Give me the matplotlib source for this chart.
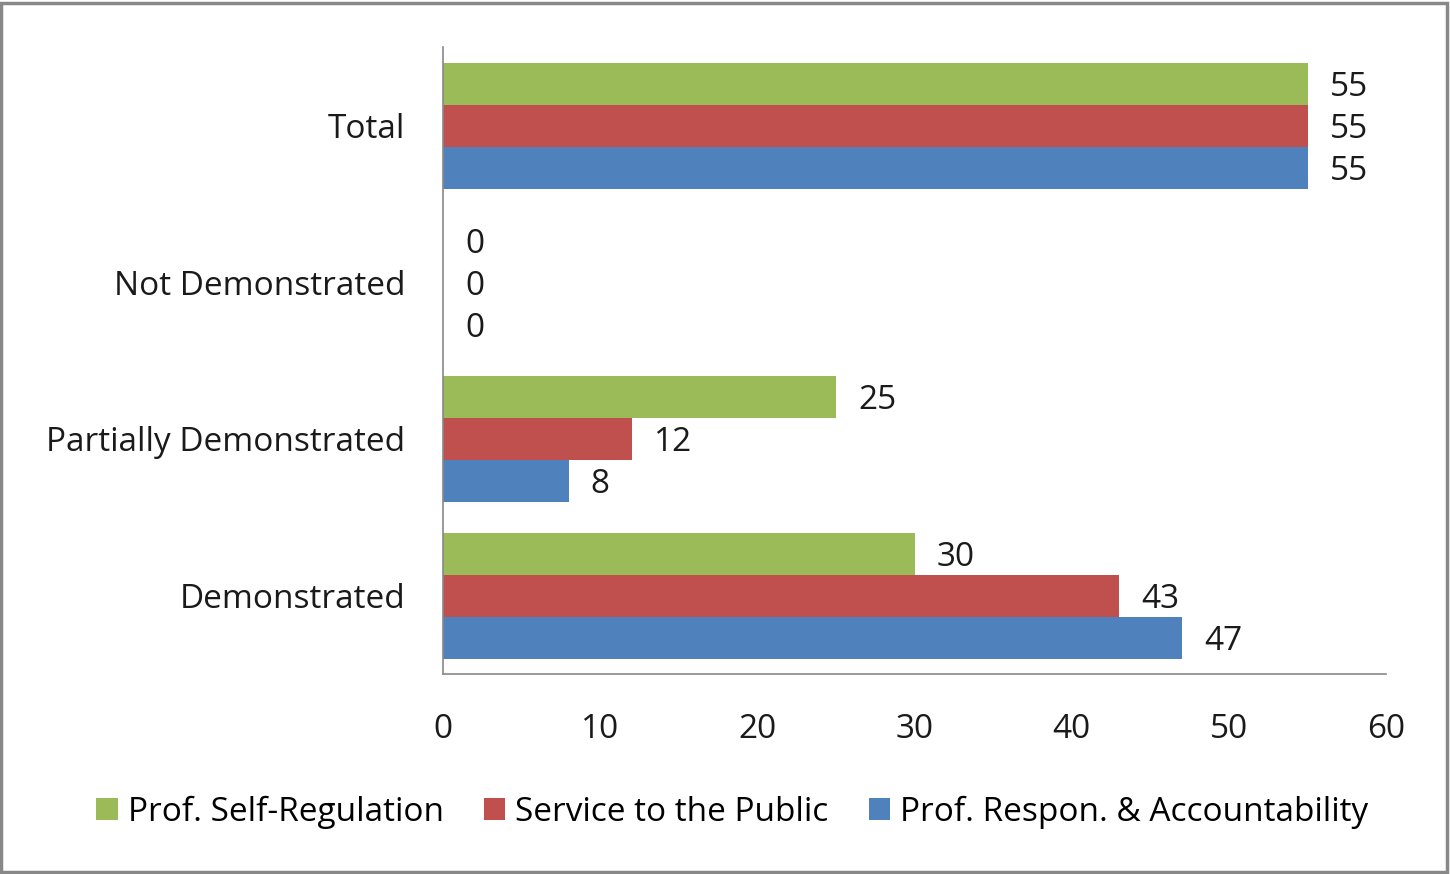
import numpy as np
import matplotlib.pyplot as plt
from matplotlib.patches import Rectangle

categories = ['Demonstrated', 'Partially Demonstrated', 'Not Demonstrated', 'Total']
series_names = ['Prof. Self-Regulation', 'Service to the Public', 'Prof. Respon. & Accountability']
self_regulation = [30, 25, 0, 55]
service_public = [43, 12, 0, 55]
respon_account = [47, 8, 0, 55]
colors = ['#9BBB59', '#C0504D', '#4F81BD']

plt.rcParams['font.family'] = ['Open Sans', 'DejaVu Sans']
fs = 24

fig = plt.figure(figsize=(14.5, 8.74), dpi=100)
ax = fig.add_axes([0.3055, 0.2288, 0.6505, 0.7172])

y = np.arange(len(categories))
h = 0.268
series = [self_regulation, service_public, respon_account]
offsets = [h, 0, -h]
for vals, off, col, name in zip(series, offsets, colors, series_names):
    bars = ax.barh(y + off, vals, height=h, color=col, label=name)
    for b, v in zip(bars, vals):
        ax.annotate(str(v), (v, b.get_y() + b.get_height() / 2),
                    xytext=(22, -4), textcoords='offset pixels',
                    va='center', ha='left', fontsize=fs, color='#1a1a1a')

ax.set_xlim(0, 60)
ax.set_ylim(-0.5, 3.5)
ax.set_xticks(range(0, 61, 10))
ax.set_yticks(y)
ax.set_yticklabels(categories)
ax.tick_params(axis='both', length=0, labelsize=fs, colors='#1a1a1a')
ax.tick_params(axis='x', pad=28)
ax.tick_params(axis='y', pad=27)
for s in ['top', 'right']:
    ax.spines[s].set_visible(False)
for s in ['left', 'bottom']:
    ax.spines[s].set_color('#888888')
    ax.spines[s].set_linewidth(1.2)

fig.legend(loc='center', bbox_to_anchor=(0.505, 0.071), ncol=3, frameon=False,
           fontsize=fs, handlelength=0.65, handleheight=0.65, handletextpad=0.3,
           columnspacing=1.2)

fig.patches.append(Rectangle((0.001, 0.002), 0.997, 0.995, transform=fig.transFigure,
                             fill=False, edgecolor='#888888', linewidth=2.5))

fig.savefig('out.png', dpi=100)
